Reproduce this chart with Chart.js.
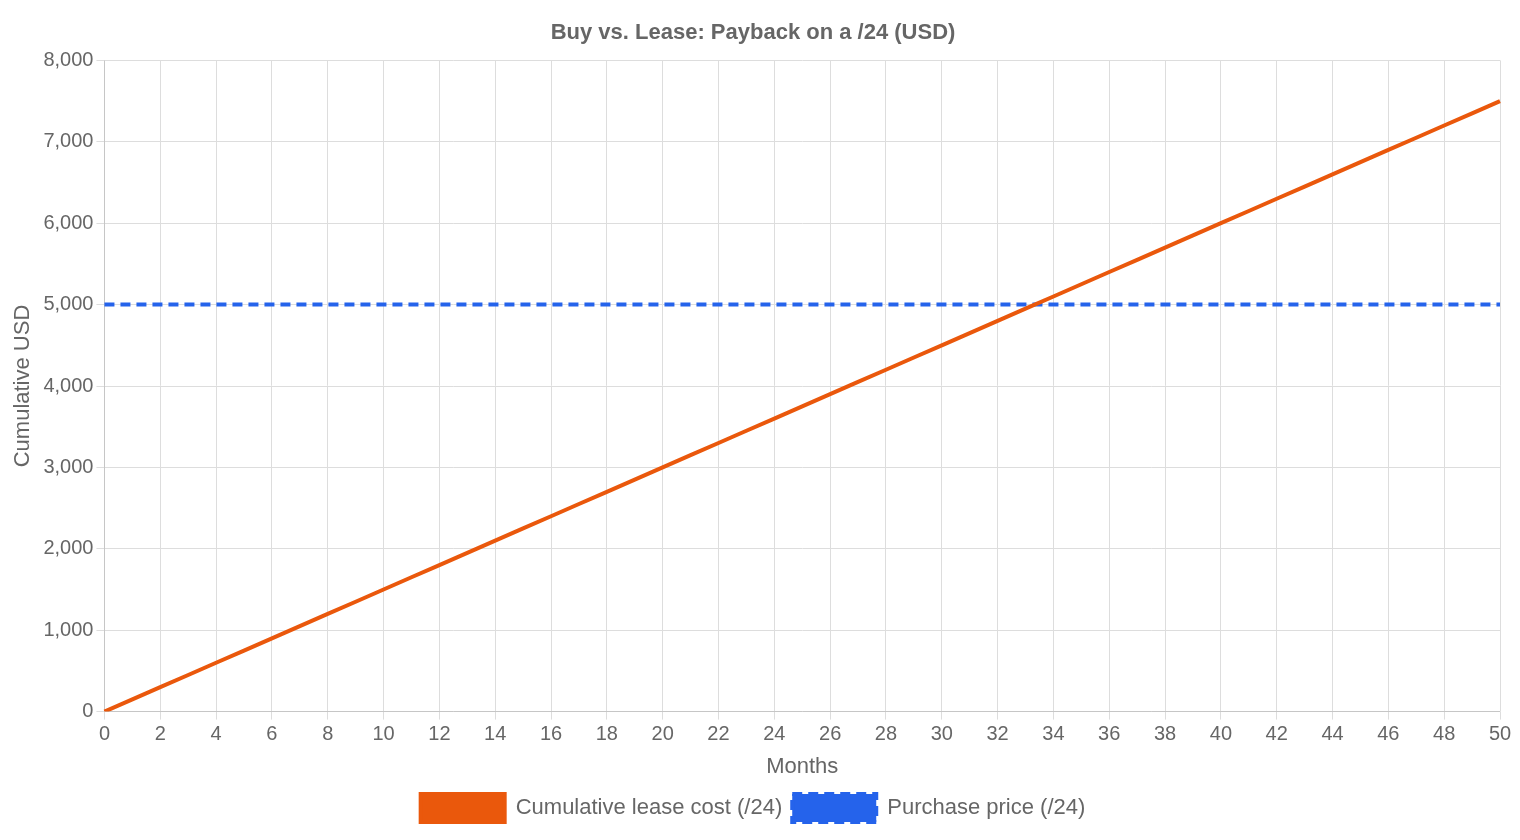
<!DOCTYPE html>
<html>
<head>
<meta charset="utf-8">
<script src="https://cdn.jsdelivr.net/npm/chart.js@4/dist/chart.umd.min.js"></script>
<style>
  html, body { margin: 0; padding: 0; background: #fff; }
  #wrap { width: 1520px; height: 840px; }
</style>
</head>
<body>
<div id="wrap"><canvas id="myChart"></canvas></div>
<script>
const months = [0,1,2,3,4,5,6,7,8,9,10,11,12,13,14,15,16,17,18,19,20,21,22,23,24,25,
  26,27,28,29,30,31,32,33,34,35,36,37,38,39,40,41,42,43,44,45,46,47,48,49,50];
const leaseCost = [0,150,300,450,600,750,900,1050,1200,1350,1500,1650,1800,1950,2100,2250,
  2400,2550,2700,2850,3000,3150,3300,3450,3600,3750,3900,4050,4200,4350,4500,4650,4800,
  4950,5100,5250,5400,5550,5700,5850,6000,6150,6300,6450,6600,6750,6900,7050,7200,7350,7500];
const purchasePrice = months.map(() => 5000);

Chart.defaults.font.family = '"Liberation Sans", Arial, sans-serif';
Chart.defaults.color = '#666';

new Chart(document.getElementById('myChart'), {
  type: 'line',
  data: {
    labels: months,
    datasets: [{
      label: 'Cumulative lease cost (/24)',
      data: leaseCost,
      borderColor: '#ea580c',
      backgroundColor: '#ea580c',
      borderWidth: 4,
      pointRadius: 0
    }, {
      label: 'Purchase price (/24)',
      data: purchasePrice,
      borderColor: '#2563eb',
      backgroundColor: '#2563eb',
      borderWidth: 4,
      borderDash: [10, 6],
      pointRadius: 0
    }]
  },
  options: {
    responsive: true,
    maintainAspectRatio: false,
    animation: false,
    layout: { padding: { left: 6, right: 20, top: 10, bottom: 8 } },
    plugins: {
      title: { display: true, text: 'Buy vs. Lease: Payback on a /24 (USD)', font: { size: 22, weight: 'bold' }, padding: { top: 10, bottom: 14 } },
      legend: {
        position: 'bottom',
        labels: { boxWidth: 84, boxHeight: 28, font: { size: 22 } }
      }
    },
    scales: {
      x: {
        title: { display: true, text: 'Months', font: { size: 22 } },
        ticks: { font: { size: 20 }, maxRotation: 0, autoSkip: false,
          callback: function (v, i) { return i % 2 === 0 ? this.getLabelForValue(v) : null; } },
        grid: { color: '#ddd' }
      },
      y: {
        min: 0, max: 8000,
        title: { display: true, text: 'Cumulative USD', font: { size: 22 } },
        ticks: { stepSize: 1000, font: { size: 20 } },
        grid: { color: '#ddd' }
      }
    }
  }
});
</script>
</body>
</html>
